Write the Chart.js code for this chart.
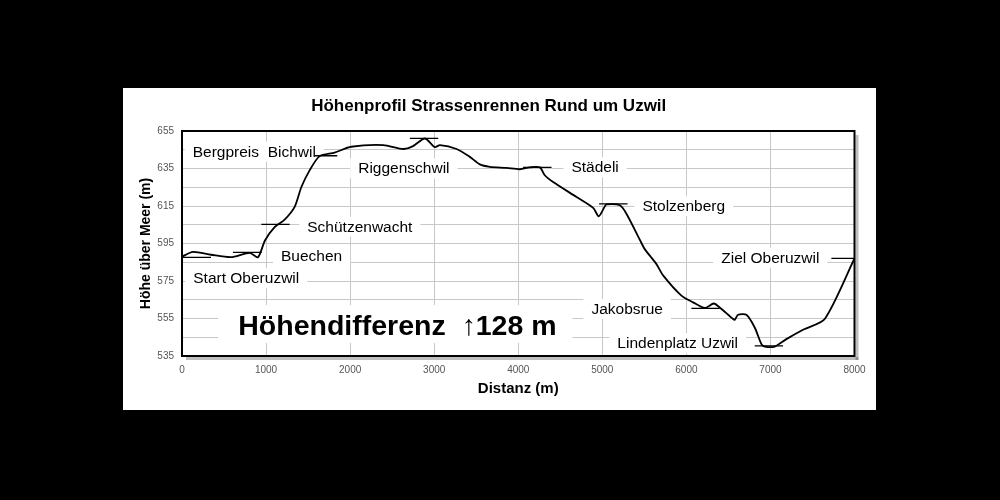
<!DOCTYPE html>
<html>
<head>
<meta charset="utf-8">
<script src="https://cdn.jsdelivr.net/npm/chart.js@4/dist/chart.umd.min.js"></script>
<style>
  html, body { margin: 0; padding: 0; background: #000; width: 1000px; height: 500px; overflow: hidden; }
  #panel { position: absolute; left: 123px; top: 88px; width: 753px; height: 322px; background: #fff; }
  #c { display: block; }
</style>
</head>
<body>
<div id="panel"><canvas id="c" width="753" height="322"></canvas></div>
<script>
// ---- Data ----
const distances = [0, 130, 345, 583, 805, 904, 987, 1102, 1221, 1340, 1419, 1518, 1637, 1815, 2013, 2394, 2632, 2743, 2889, 3008, 3068, 3266, 3424, 3543, 3662, 3861, 4019, 4138, 4257, 4316, 4415, 4693, 4891, 4958, 5030, 5050, 5208, 5287, 5446, 5505, 5644, 5723, 5941, 6080, 6219, 6326, 6397, 6556, 6576, 6615, 6714, 6813, 6893, 6932, 7051, 7190, 7388, 7646, 8000];
const elevations = [588, 590.5, 589, 587.7, 590, 587.7, 596.6, 603.7, 607.7, 614.5, 625, 634, 641.6, 643.5, 646.6, 647.5, 645.4, 646.8, 651, 646.4, 647.5, 645.4, 641.2, 637.2, 635.9, 635.3, 634.6, 635.6, 635.6, 631.4, 627.8, 619.8, 614, 609.5, 614.8, 615.9, 615.4, 610.9, 597, 592, 584, 578, 567.2, 563.6, 560.6, 563, 560.9, 554.7, 554.3, 557, 557, 550.2, 541.3, 540, 540, 544, 549, 554.7, 587];

const markerNames   = ['Start Oberuzwil', 'Buechen', 'Schützenwacht', 'Bergpreis  Bichwil', 'Riggenschwil', 'Städeli', 'Stolzenberg', 'Jakobsrue', 'Lindenplatz Uzwil', 'Ziel Oberuzwil'];
const markerHeights = [587.6, 590.3, 605.2, 641.8, 651.1, 635.6, 616.1, 560.4, 540.4, 587.1];
const markerFrom    = [0, 606, 943, 1581, 2711, 4058, 4962, 6060, 6813, 7725];
const markerTo      = [345, 948, 1281, 1847, 3048, 4396, 5300, 6397, 7150, 8000];

const yGridValues = [535, 545, 555, 565, 575, 585, 595, 605, 615, 625, 635, 645, 655];
const yLabelValues = [535, 555, 575, 595, 615, 635, 655];
const xTickStep = 1000;

const chartTitle = 'Höhenprofil Strassenrennen Rund um Uzwil';
const xTitle = 'Distanz (m)';
const yTitle = 'Höhe über Meer (m)';
const bigNote = 'Höhendifferenz  ↑128 m';

// ---- Layout / style (annotation anchors in data coordinates: left edge, baseline) ----
const labelAnchors = [
  [134, 573.8], [1177, 585.8], [1490, 601.3], [127, 641.3], [2096, 632.4],
  [4632, 633.0], [5477, 612.3], [4870, 557.4], [5179, 539.1], [6415, 584.8]
];
const noteAnchor = [669, 546.2];
const FONT = "'Liberation Sans', Arial, sans-serif";

const datasets = [{
  data: distances.map((d, i) => ({ x: d, y: elevations[i] })),
  borderColor: '#000', borderWidth: 1.8, pointRadius: 0, tension: 0.25, fill: false
}];
markerNames.forEach((n, i) => {
  datasets.push({
    data: [{ x: markerFrom[i], y: markerHeights[i] }, { x: markerTo[i], y: markerHeights[i] }],
    borderColor: '#000', borderWidth: 1.3, pointRadius: 0, tension: 0, fill: false
  });
});

const decorPlugin = {
  id: 'decor',
  beforeDatasetsDraw(chart) {
    const { ctx, chartArea: a, scales: { x, y } } = chart;
    ctx.save();
    ctx.textBaseline = 'alphabetic';
    ctx.textAlign = 'left';
    ctx.font = '15.5px ' + FONT;
    markerNames.forEach((n, i) => {
      const px = x.getPixelForValue(labelAnchors[i][0]);
      const py = y.getPixelForValue(labelAnchors[i][1]);
      const w = ctx.measureText(n).width;
      ctx.fillStyle = '#fff';
      ctx.fillRect(px - 8, py - 15, w + 16, 20);
      ctx.fillStyle = '#000';
      ctx.fillText(n, px, py);
    });
    ctx.font = 'bold 28.5px ' + FONT;
    const nx = x.getPixelForValue(noteAnchor[0]);
    const ny = y.getPixelForValue(noteAnchor[1]);
    const nw = ctx.measureText(bigNote).width;
    ctx.fillStyle = '#fff';
    ctx.fillRect(nx - 20, ny - 30, nw + 36, 38);
    ctx.fillStyle = '#000';
    ctx.fillText(bigNote, nx, ny);
    ctx.fillStyle = 'rgba(0,0,0,0.25)';
    ctx.fillRect(a.right + 1, a.top + 4, 3, a.bottom - a.top);
    ctx.fillRect(a.left + 4, a.bottom + 1, a.right - a.left, 3);
    ctx.strokeStyle = '#000';
    ctx.lineWidth = 2;
    ctx.strokeRect(a.left, a.top, a.right - a.left, a.bottom - a.top);
    ctx.restore();
  }
};

new Chart(document.getElementById('c'), {
  type: 'line',
  data: { datasets },
  plugins: [decorPlugin],
  options: {
    responsive: false,
    animation: false,
    events: [],
    layout: { padding: { left: 0, right: 21.5, top: 0, bottom: 0 } },
    plugins: {
      legend: { display: false },
      tooltip: { enabled: false },
      title: {
        display: true, text: chartTitle, color: '#000',
        font: { family: FONT, size: 17, weight: 'bold' },
        padding: { top: 8, bottom: 14.6 }
      }
    },
    scales: {
      x: {
        type: 'linear', min: 0, max: 8000,
        ticks: { stepSize: xTickStep, color: '#555', font: { family: FONT, size: 10 }, padding: 8, maxRotation: 0,
                 callback: (v) => String(v) },
        grid: { color: '#c8c8c8', lineWidth: 1, drawTicks: false },
        border: { display: false },
        title: { display: true, text: xTitle, color: '#000', font: { family: FONT, size: 15, weight: 'bold' }, padding: { top: 0, bottom: 12 } },
        afterFit(s) { s.height = 54; }
      },
      y: {
        type: 'linear', min: 535, max: 655,
        afterBuildTicks(s) { s.ticks = yGridValues.map(v => ({ value: v })); },
        ticks: {
          color: '#555', font: { family: FONT, size: 10 }, padding: 8,
          callback: (v) => yLabelValues.includes(v) ? String(v) : ''
        },
        grid: { color: '#c8c8c8', lineWidth: 1, drawTicks: false },
        border: { display: false },
        title: { display: true, text: yTitle, color: '#000', font: { family: FONT, size: 14, weight: 'bold' }, padding: { top: 14.6, bottom: 0 } },
        afterFit(s) { s.width = 59; }
      }
    }
  }
});
</script>
</body>
</html>
